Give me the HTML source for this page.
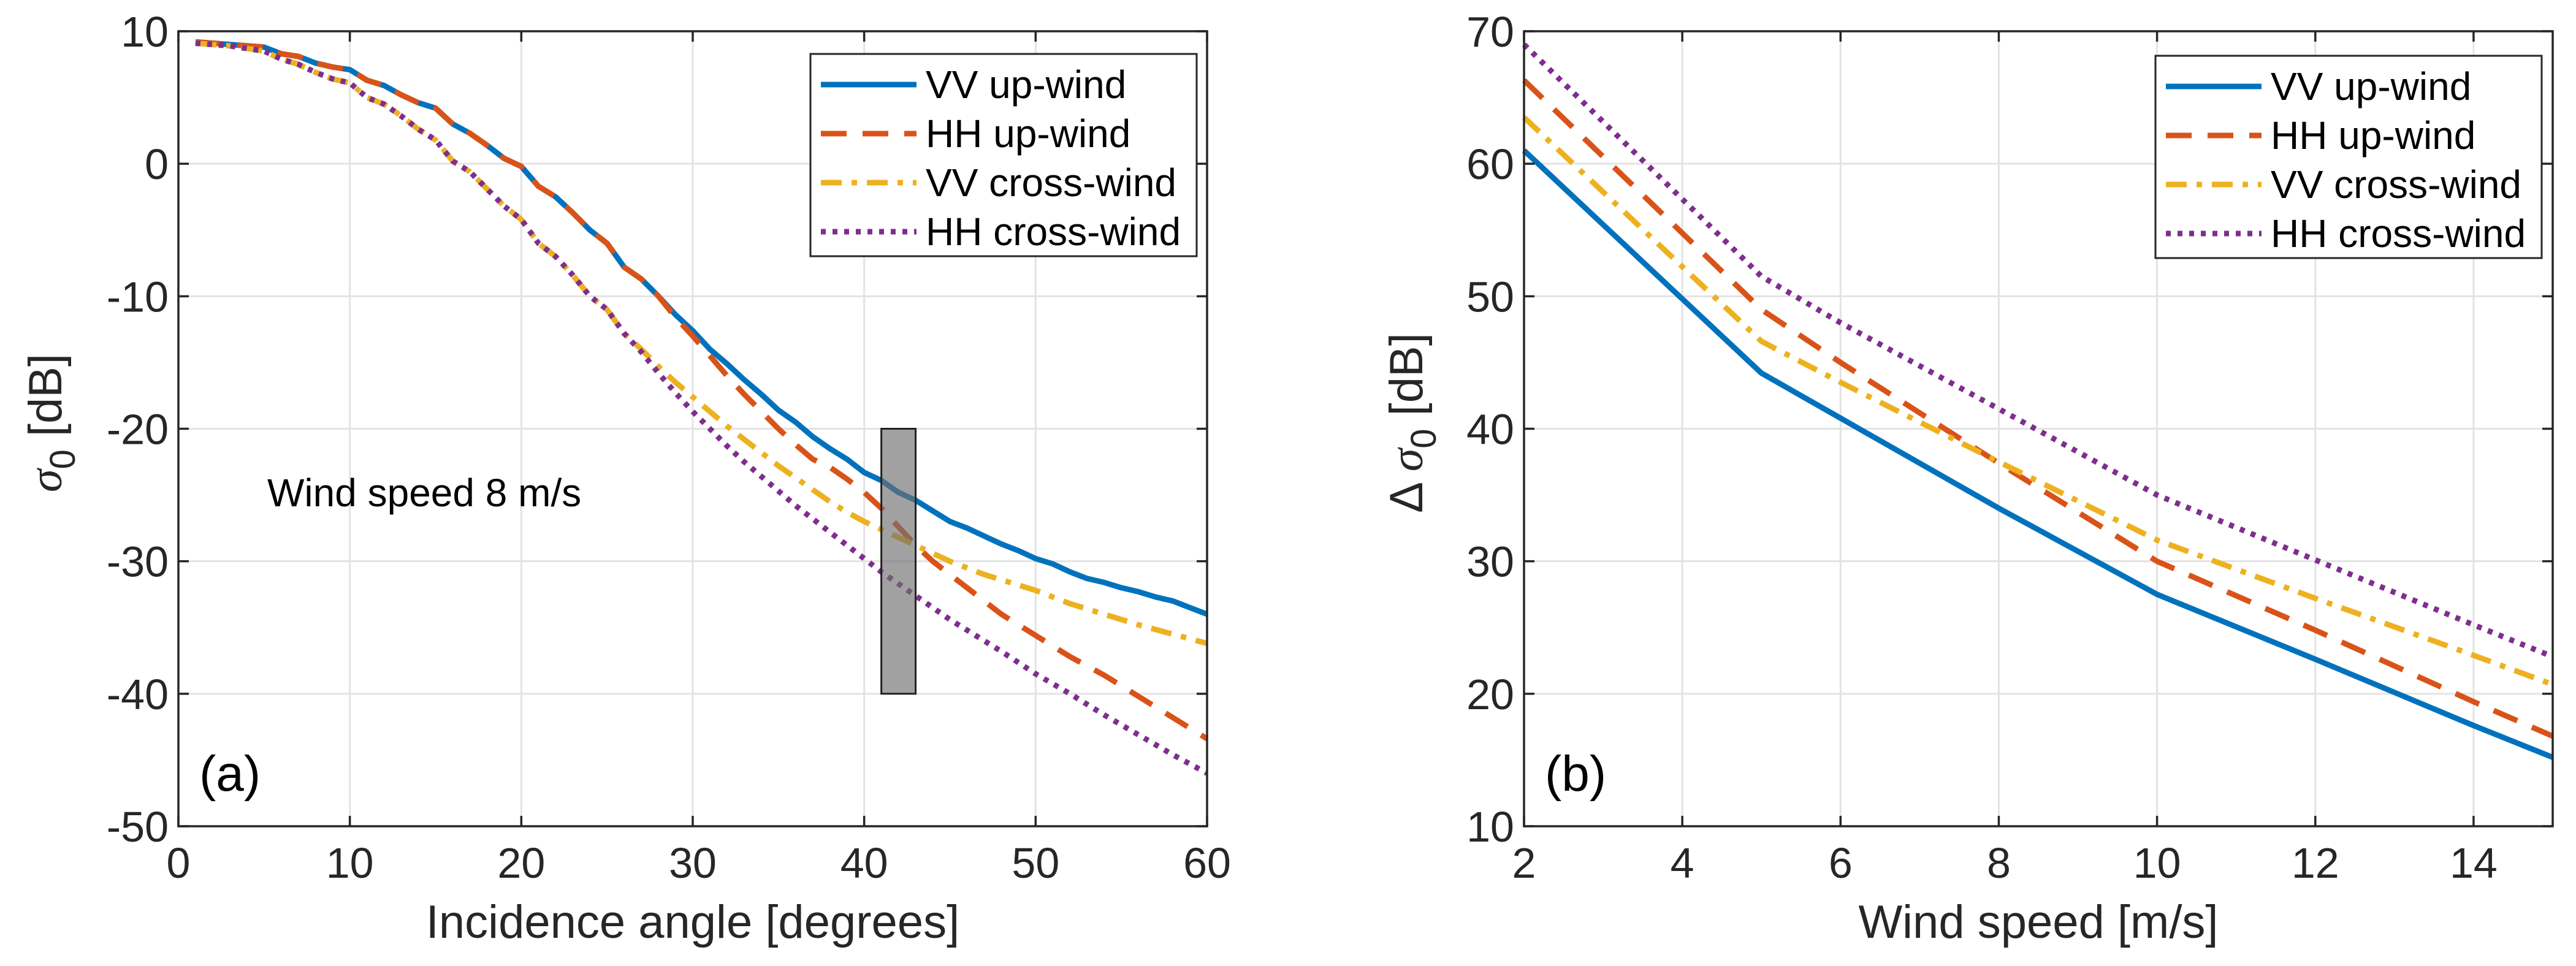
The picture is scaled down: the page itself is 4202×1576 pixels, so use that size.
<!DOCTYPE html>
<html><head><meta charset="utf-8">
<style>
html,body{margin:0;padding:0;background:#fff;}
svg{display:block;font-family:"Liberation Sans",Arial,sans-serif;}
</style></head>
<body>
<svg id="chart" width="4202" height="1576" viewBox="0 0 4202 1576" xmlns="http://www.w3.org/2000/svg"></svg>
<script>
// ---------- Panel (a) data ----------
const aXTicks = [0,10,20,30,40,50,60];
const aYTicks = [10,0,-10,-20,-30,-40,-50];
const aVVupX = [1,3,5,6,7,8,9,10,11,12,13,14,15,16,17,18,19,20,21,22,23,24,25,26,27,28,29,30,31,32,33,34,35,36,37,38,39,40,41,42,43,44,45,46,47,48,49,50,51,52,53,54,55,56,57,58,59,60];
const aVVupY = [9.2,9.0,8.8,8.3,8.1,7.6,7.3,7.1,6.3,5.9,5.2,4.6,4.2,3.0,2.3,1.4,0.4,-0.2,-1.7,-2.5,-3.7,-5.0,-6.0,-7.8,-8.7,-10.0,-11.4,-12.6,-14.0,-15.1,-16.3,-17.4,-18.6,-19.5,-20.6,-21.5,-22.3,-23.3,-23.9,-24.8,-25.4,-26.2,-27.0,-27.5,-28.1,-28.7,-29.2,-29.8,-30.2,-30.8,-31.3,-31.6,-32.0,-32.3,-32.7,-33.0,-33.5,-34.0];
const aHHupX = [1,3,5,6,7,8,9,10,11,12,13,14,15,16,17,18,19,20,21,22,23,24,25,26,27,28,29,30,31,32,33,34,35,36,37,38,39,40,41,42,43,44,45,46,47,48,49,50,52,54,56,58,60];
const aHHupY = [9.2,9.0,8.8,8.3,8.1,7.6,7.3,7.1,6.3,5.9,5.2,4.6,4.2,3.0,2.3,1.4,0.4,-0.2,-1.7,-2.5,-3.7,-5.0,-6.0,-7.8,-8.7,-10.0,-11.6,-13.0,-14.5,-16.0,-17.4,-18.7,-20.0,-21.2,-22.3,-22.9,-23.8,-24.8,-26.0,-27.4,-28.8,-30.0,-31.0,-32.0,-33.0,-34.0,-34.8,-35.6,-37.2,-38.6,-40.2,-41.8,-43.4];
const aVVcrX = [1,3,5,6,7,8,9,10,11,12,13,14,15,16,17,18,19,20,21,22,23,24,25,26,27,28,29,30,31,32,33,34,35,36,37,38,39,40,41,42,43,44,45,46,47,48,50,52,54,56,58,60];
const aVVcrY = [9.1,8.9,8.5,7.9,7.5,6.9,6.4,6.1,5.0,4.5,3.6,2.6,1.8,0.2,-0.6,-1.9,-3.2,-4.2,-6.0,-7.0,-8.4,-10.0,-11.0,-12.8,-14.0,-15.3,-16.5,-17.6,-18.7,-19.8,-20.8,-21.8,-22.8,-23.7,-24.6,-25.5,-26.3,-27.0,-27.6,-28.2,-28.8,-29.4,-30.0,-30.5,-31.0,-31.4,-32.2,-33.2,-34.0,-34.8,-35.5,-36.2];
const aHHcrX = [1,3,5,6,7,8,9,10,11,12,13,14,15,16,17,18,19,20,21,22,23,24,25,26,27,28,29,30,31,32,33,34,35,36,37,38,39,40,41,42,43,44,45,46,47,48,50,52,54,56,58,60];
const aHHcrY = [9.1,8.9,8.5,7.9,7.5,6.9,6.4,6.1,5.0,4.5,3.6,2.6,1.8,0.2,-0.6,-1.9,-3.2,-4.2,-6.0,-7.0,-8.4,-10.0,-11.0,-12.8,-14.2,-15.8,-17.3,-18.7,-20.0,-21.3,-22.5,-23.6,-24.7,-25.8,-26.8,-27.8,-28.8,-29.8,-30.8,-31.7,-32.6,-33.5,-34.4,-35.2,-36.0,-36.8,-38.5,-40.0,-41.6,-43.1,-44.6,-46.0];
const aBoxX = [41,43];
const aBoxY = [-20,-40];

// ---------- Panel (b) data ----------
const bXTicks = [2,4,6,8,10,12,14];
const bYTicks = [70,60,50,40,30,20,10];
const bX = [2,5,6,8,10,12,14,15];
const bVVup = [61.0,44.2,40.8,34.0,27.5,22.6,17.6,15.2];
const bHHup = [66.3,49.0,45.0,37.4,30.0,24.8,19.4,16.8];
const bVVcr = [63.5,46.6,43.5,37.5,31.6,27.2,22.9,20.7];
const bHHcr = [69.0,51.5,48.0,41.5,35.0,30.1,25.2,22.8];

const labels = ['VV up-wind','HH up-wind','VV cross-wind','HH cross-wind'];
const colors = ['#0072BD','#D95319','#EDB120','#7E2F8E'];
const dashes = ['none','42 26','34 16 9 16','8 11'];

const NS='http://www.w3.org/2000/svg';
const svg=document.getElementById('chart');
function el(tag,attrs,parent,text){const e=document.createElementNS(NS,tag);for(const k in attrs)e.setAttribute(k,attrs[k]);if(text!==undefined)e.textContent=text;(parent||svg).appendChild(e);return e;}

function panel(cfg){
  const g=el('g',{});
  
  
  const L=cfg.L,R=cfg.R,T=51,B=1348;
  const sx=v=>L+(v-cfg.xmin)/(cfg.xmax-cfg.xmin)*(R-L);
  const sy=v=>T+(cfg.ymax-v)/(cfg.ymax-cfg.ymin)*(B-T);
  const grid=el('g',{stroke:'#e3e3e3','stroke-width':3},g);
  
  
  cfg.xt.forEach(v=>{if(v>cfg.xmin&&v<cfg.xmax)el('line',{x1:sx(v),x2:sx(v),y1:T,y2:B},grid);});
  cfg.yt.forEach(v=>{if(v>cfg.ymin&&v<cfg.ymax)el('line',{x1:L,x2:R,y1:sy(v),y2:sy(v)},grid);});
  cfg.series.forEach((s,i)=>{
    const d=s.x.map((x,j)=>(j?'L':'M')+sx(x).toFixed(1)+' '+sy(s.y[j]).toFixed(1)).join(' ');
    const p=el('path',{d:d,fill:'none',stroke:colors[i],'stroke-width':9,'stroke-dasharray':dashes[i],'stroke-linejoin':'round'},g);
    
    
  });
  if(cfg.box){
    const r=el('rect',{x:sx(cfg.box.x[0]),y:sy(cfg.box.y[0]),width:sx(cfg.box.x[1])-sx(cfg.box.x[0]),height:sy(cfg.box.y[1])-sy(cfg.box.y[0]),fill:'rgba(110,110,110,0.65)',stroke:'#222','stroke-width':3},g);
    
    
  }
  const ax=el('rect',{x:L,y:T,width:R-L,height:B-T,fill:'none',stroke:'#262626','stroke-width':3.5},g);
  
  
  cfg.xt.forEach(v=>{
    el('line',{x1:sx(v),x2:sx(v),y1:B,y2:B-17,stroke:'#262626','stroke-width':3.5},g);
    el('line',{x1:sx(v),x2:sx(v),y1:T,y2:T+17,stroke:'#262626','stroke-width':3.5},g);
    const t=el('text',{x:sx(v),y:1432,'font-size':70,'text-anchor':'middle',fill:'#262626'},g,String(v));
    
    
  });
  cfg.yt.forEach(v=>{
    el('line',{x1:L,x2:L+17,y1:sy(v),y2:sy(v),stroke:'#262626','stroke-width':3.5},g);
    el('line',{x1:R,x2:R-17,y1:sy(v),y2:sy(v),stroke:'#262626','stroke-width':3.5},g);
    const t=el('text',{x:L-16,y:sy(v)+25,'font-size':70,'text-anchor':'end',fill:'#262626'},g,String(v));
    
    
  });
  const xl=el('text',{x:(L+R)/2,y:1530,'font-size':76,'text-anchor':'middle',fill:'#262626'},g,cfg.xlabel);
  
  
  const yl=el('text',{x:0,y:0,'font-size':76,'text-anchor':'middle',fill:'#262626',transform:`translate(${cfg.ylx},${cfg.yly}) rotate(-90)`},g);
  
  
  if(cfg.delta){el('tspan',{},yl,'\u0394 ');}
  el('tspan',{'font-family':'"Liberation Serif",serif','font-style':'italic'},yl,'\u03c3');
  el('tspan',{dy:22,'font-size':58},yl,'0');
  el('tspan',{dy:-22},yl,' [dB]');
  const pl=el('text',{x:L+34,y:1290,'font-size':82,fill:'#000'},g,cfg.plabel);
  
  
  const lg=el('g',{},g);
  
  
  el('rect',{x:cfg.lgx,y:cfg.lgy,width:630,height:330,fill:'#fff',stroke:'#262626','stroke-width':3},lg);
  labels.forEach((lab,i)=>{
    const y=cfg.lgy+50+i*80;
    const e=el('g',{},lg);
    
    
    el('line',{x1:cfg.lgx+17,x2:cfg.lgx+173,y1:y,y2:y,stroke:colors[i],'stroke-width':9,'stroke-dasharray':dashes[i]},e);
    el('text',{x:cfg.lgx+188,y:y+22,'font-size':64,fill:'#000'},e,lab);
  });
  return {sx,sy,g};
}

const pa=panel({name:'panel-a',L:291,R:1969,xmin:0,xmax:60,ymin:-50,ymax:10,xt:aXTicks,yt:aYTicks,
  xlabel:'Incidence angle [degrees]',ylx:100,yly:690,plabel:'(a)',lgx:1322,lgy:88,box:{x:aBoxX,y:aBoxY},
  series:[{x:aVVupX,y:aVVupY},{x:aHHupX,y:aHHupY},{x:aVVcrX,y:aVVcrY},{x:aHHcrX,y:aHHcrY}]});
const ws=el('text',{x:436,y:826,'font-size':64,fill:'#000'},pa.g,'Wind speed 8 m/s');



panel({name:'panel-b',L:2486,R:4164,xmin:2,xmax:15,ymin:10,ymax:70,xt:bXTicks,yt:bYTicks,
  xlabel:'Wind speed [m/s]',ylx:2320,yly:690,plabel:'(b)',lgx:3516,lgy:91,delta:true,
  series:[{x:bX,y:bVVup},{x:bX,y:bHHup},{x:bX,y:bVVcr},{x:bX,y:bHHcr}]});
</script>
</body></html>
